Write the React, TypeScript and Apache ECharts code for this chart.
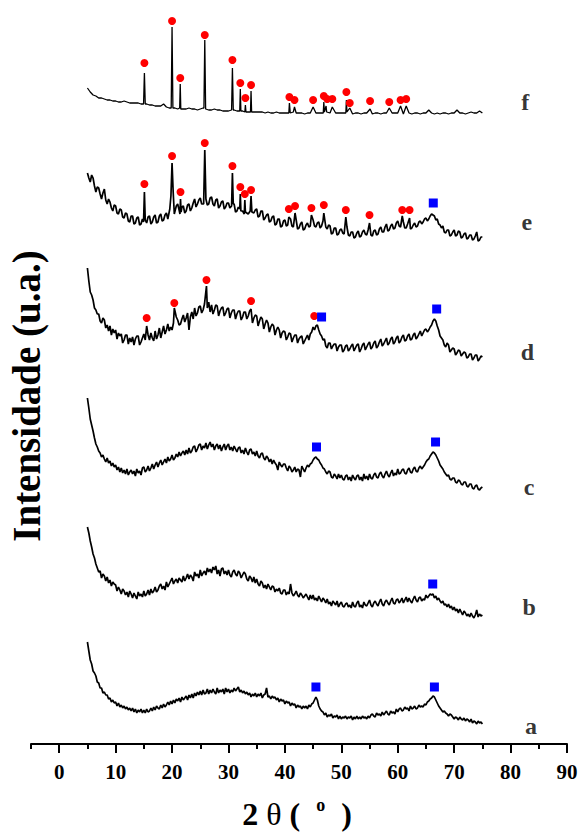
import React, { useEffect, useRef } from "react";
import * as echarts from "echarts";

// 2θ sampling of the background arrays
const THETA_START = 5;
const STEP_NOISY = 0.25; // traces a–e
const STEP_F = 0.5; // trace f

// Background intensities (u.a.), 5.0° … 75.0° every 0.25° (one row = 5°)
const bgA = [
  102, 93, 84, 80, 73, 71, 68, 62, 61, 56, 56, 51, 52, 49, 49, 45, 46, 42, 44, 41,
  42, 38, 41, 37, 39, 36, 38, 35, 37, 34, 36, 33, 36, 32, 35, 31, 34, 32, 35, 31,
  34, 31, 35, 32, 33, 36, 33, 37, 34, 38, 36, 35, 39, 36, 40, 37, 39, 42, 39, 43,
  40, 44, 41, 45, 43, 46, 42, 47, 44, 46, 48, 44, 49, 46, 50, 46, 51, 48, 52, 49,
  53, 49, 54, 50, 51, 55, 50, 54, 51, 55, 52, 50, 56, 51, 54, 52, 55, 50, 56, 52,
  55, 51, 54, 52, 56, 53, 55, 57, 52, 54, 51, 53, 50, 52, 49, 51, 47, 50, 48, 51,
  47, 50, 48, 51, 46, 49, 50, 56, 47, 48, 45, 48, 46, 47, 44, 46, 42, 45, 43, 44,
  40, 43, 41, 42, 38, 41, 39, 40, 36, 39, 37, 38, 35, 38, 36, 38, 35, 39, 37, 40,
  41, 44, 47, 44, 38, 35, 33, 32, 29, 31, 27, 29, 28, 30, 26, 28, 27, 29, 25, 28,
  25, 27, 26, 28, 25, 27, 26, 28, 24, 27, 25, 28, 25, 27, 25, 28, 26, 27, 25, 28,
  26, 29, 30, 28, 27, 31, 29, 30, 28, 32, 29, 31, 33, 30, 29, 33, 31, 32, 30, 35,
  32, 35, 36, 33, 34, 37, 35, 36, 33, 38, 35, 36, 38, 35, 36, 39, 37, 38, 37, 40,
  39, 42, 43, 45, 46, 48, 47, 44, 41, 38, 36, 34, 32, 33, 31, 30, 28, 30, 29, 27,
  25, 27, 26, 24, 27, 25, 24, 26, 23, 25, 24, 22, 25, 21, 23, 22, 20, 23, 21, 22,
  20,
];
const bgB = [
  217, 211, 203, 197, 190, 186, 180, 176, 172, 173, 166, 170, 168, 163, 167, 161, 164, 158, 162, 160,
  159, 153, 157, 154, 150, 155, 153, 149, 152, 147, 153, 150, 146, 151, 148, 145, 152, 148, 150, 147,
  153, 148, 150, 154, 149, 155, 151, 153, 157, 152, 154, 158, 160, 155, 158, 154, 162, 157, 160, 163,
  166, 160, 163, 165, 161, 166, 164, 162, 168, 163, 166, 170, 165, 169, 167, 163, 172, 168, 170, 166,
  174, 168, 171, 173, 169, 176, 172, 175, 171, 177, 174, 178, 170, 174, 168, 175, 176, 170, 173, 169,
  174, 169, 167, 172, 174, 170, 168, 173, 171, 166, 169, 172, 170, 165, 163, 168, 166, 162, 167, 161,
  165, 160, 158, 163, 161, 156, 159, 155, 160, 157, 154, 158, 157, 152, 155, 153, 156, 151, 150, 154,
  154, 149, 152, 150, 160, 151, 148, 150, 153, 149, 147, 151, 149, 146, 148, 150, 147, 144, 149, 145,
  149, 144, 146, 143, 148, 145, 142, 146, 144, 141, 145, 140, 142, 138, 143, 141, 139, 143, 137, 140,
  142, 138, 137, 140, 141, 137, 139, 136, 142, 138, 137, 141, 143, 137, 139, 136, 142, 139, 138, 141,
  144, 139, 137, 141, 143, 140, 138, 142, 145, 140, 138, 142, 144, 141, 139, 143, 146, 141, 140, 144,
  145, 141, 143, 146, 141, 144, 147, 142, 146, 143, 141, 145, 148, 144, 142, 146, 147, 143, 145, 144,
  149, 146, 148, 150, 149, 150, 146, 148, 144, 146, 143, 141, 143, 139, 140, 137, 140, 136, 138, 134,
  137, 133, 135, 131, 135, 132, 129, 133, 131, 128, 130, 127, 131, 128, 126, 129, 134, 127, 130, 128,
  129,
];
const bgC = [
  346, 336, 325, 319, 313, 306, 300, 297, 293, 291, 287, 289, 285, 282, 286, 281, 283, 278, 281, 277,
  279, 274, 277, 272, 276, 271, 274, 270, 275, 269, 272, 274, 270, 273, 268, 275, 271, 273, 269, 276,
  277, 272, 274, 278, 273, 276, 280, 275, 279, 282, 277, 281, 284, 279, 282, 285, 281, 287, 283, 285,
  289, 284, 286, 290, 287, 292, 288, 291, 293, 289, 294, 290, 296, 291, 293, 297, 298, 292, 295, 299,
  300, 294, 298, 296, 301, 295, 299, 302, 297, 300, 294, 298, 300, 295, 299, 293, 297, 300, 294, 298,
  300, 294, 297, 293, 298, 295, 292, 296, 297, 291, 294, 290, 296, 292, 289, 294, 295, 290, 292, 288,
  293, 288, 286, 290, 291, 286, 284, 288, 286, 282, 285, 280, 284, 281, 279, 274, 282, 279, 277, 280,
  280, 276, 273, 278, 276, 272, 274, 277, 272, 275, 274, 267, 278, 275, 272, 276, 279, 277, 280, 281,
  284, 286, 287, 285, 284, 281, 279, 276, 275, 272, 270, 273, 272, 267, 266, 270, 268, 265, 270, 266,
  269, 265, 264, 268, 269, 264, 267, 263, 269, 266, 264, 268, 269, 264, 267, 263, 270, 265, 268, 264,
  270, 266, 265, 269, 271, 267, 266, 270, 272, 268, 266, 270, 273, 269, 267, 271, 274, 268, 271, 269,
  275, 270, 271, 274, 275, 271, 270, 274, 276, 272, 271, 275, 277, 273, 272, 276, 278, 275, 277, 279,
  282, 284, 285, 288, 290, 292, 291, 289, 286, 283, 279, 277, 275, 272, 270, 268, 269, 265, 264, 266,
  266, 262, 261, 264, 263, 260, 259, 262, 262, 258, 257, 260, 260, 256, 255, 258, 259, 255, 254, 256,
  257,
];
const bgD = [
  476, 463, 452, 449, 444, 436, 434, 430, 430, 423, 421, 426, 424, 416, 419, 413, 418, 409, 415, 411,
  414, 405, 411, 408, 410, 401, 404, 409, 409, 400, 406, 402, 407, 399, 405, 408, 408, 399, 402, 406,
  410, 404, 401, 409, 404, 411, 406, 403, 413, 405, 409, 416, 406, 412, 418, 410, 414, 420, 413, 417,
  414, 421, 416, 427, 424, 419, 420, 425, 429, 422, 426, 431, 414, 427, 432, 425, 436, 428, 431, 437,
  438, 431, 434, 440, 431, 436, 442, 432, 439, 430, 434, 439, 438, 428, 433, 436, 437, 428, 431, 435,
  436, 426, 431, 434, 434, 425, 430, 433, 433, 424, 427, 432, 432, 425, 428, 433, 430, 421, 426, 429,
  428, 418, 423, 427, 425, 415, 420, 424, 421, 412, 417, 420, 418, 409, 414, 417, 414, 406, 411, 413,
  412, 404, 407, 411, 410, 402, 406, 409, 409, 401, 405, 407, 408, 400, 403, 406, 409, 404, 410, 412,
  417, 414, 418, 419, 414, 410, 408, 404, 405, 398, 396, 401, 401, 395, 398, 400, 400, 393, 397, 399,
  399, 392, 394, 398, 399, 393, 395, 398, 400, 393, 396, 399, 400, 392, 395, 399, 401, 394, 397, 400,
  402, 395, 397, 401, 403, 396, 398, 402, 405, 398, 400, 403, 406, 399, 401, 405, 407, 400, 402, 406,
  408, 401, 403, 407, 409, 403, 404, 408, 410, 404, 405, 409, 411, 405, 407, 410, 413, 408, 411, 414,
  415, 412, 414, 417, 419, 423, 425, 423, 418, 414, 408, 406, 404, 399, 397, 401, 399, 392, 394, 396,
  395, 389, 391, 394, 393, 388, 390, 392, 391, 386, 387, 390, 390, 384, 386, 389, 389, 383, 385, 388,
  387,
];
const bgE = [
  571, 566, 562, 569, 566, 558, 552, 557, 556, 550, 545, 551, 555, 544, 540, 545, 542, 536, 533, 539,
  538, 531, 530, 535, 534, 527, 526, 531, 530, 523, 522, 528, 528, 520, 521, 526, 527, 519, 520, 525,
  526, 520, 521, 527, 528, 520, 522, 527, 529, 521, 522, 528, 530, 523, 524, 529, 531, 525, 535, 535,
  536, 531, 532, 538, 540, 534, 534, 537, 538, 531, 533, 539, 540, 533, 536, 541, 545, 537, 540, 544,
  546, 540, 539, 545, 547, 539, 540, 546, 547, 540, 538, 544, 545, 536, 538, 542, 543, 535, 537, 541,
  541, 536, 534, 540, 540, 532, 533, 537, 538, 530, 533, 536, 537, 531, 530, 536, 538, 529, 531, 534,
  535, 527, 528, 533, 533, 524, 526, 529, 530, 522, 523, 527, 528, 519, 520, 525, 525, 517, 518, 523,
  524, 518, 519, 523, 525, 518, 517, 522, 524, 515, 516, 520, 522, 514, 515, 519, 521, 517, 518, 522,
  524, 518, 517, 521, 522, 516, 518, 523, 525, 517, 515, 519, 518, 510, 511, 516, 516, 509, 510, 514,
  515, 511, 510, 515, 517, 509, 508, 512, 512, 506, 507, 511, 513, 507, 508, 512, 514, 510, 509, 514,
  516, 509, 508, 513, 514, 509, 510, 515, 517, 512, 512, 517, 520, 513, 514, 518, 520, 515, 516, 521,
  523, 518, 517, 521, 522, 516, 516, 520, 522, 515, 516, 519, 521, 517, 518, 522, 523, 520, 522, 525,
  526, 523, 525, 528, 530, 529, 528, 524, 525, 520, 519, 516, 518, 512, 511, 514, 514, 508, 509, 512,
  514, 508, 509, 513, 512, 506, 507, 510, 511, 505, 506, 509, 509, 504, 505, 508, 512, 503, 504, 507,
  507,
];
// trace f, 5.0° … 75.0° every 0.5°
const bgF = [
  656, 652, 649, 648, 646, 646, 645, 644, 644, 643,
  643, 642, 642, 643, 642, 641, 641, 641, 641, 640,
  640, 640, 639, 639, 638, 638, 638, 640, 637, 636,
  636, 636, 635, 635, 635, 635, 636, 635, 635, 634,
  635, 636, 635, 634, 634, 635, 634, 634, 633, 633,
  633, 634, 634, 633, 633, 633, 633, 632, 632, 632,
  632, 632, 632, 631, 632, 631, 631, 632, 631, 631,
  631, 631, 631, 632, 631, 631, 631, 630, 631, 631,
  631, 631, 631, 631, 631, 631, 631, 631, 631, 631,
  631, 631, 631, 631, 630, 631, 631, 630, 631, 631,
  631, 630, 631, 631, 630, 631, 631, 630, 631, 631,
  631, 631, 630, 631, 631, 630, 631, 631, 630, 631,
  631, 634, 631, 630, 631, 630, 631, 631, 630, 631,
  631, 634, 631, 631, 630, 631, 632, 631, 631, 633,
  631,
];

// Sharp reflections [2θ, intensity]
const peaksA: [number, number][] = [];
const peaksB: [number, number][] = [];
const peaksC: [number, number][] = [];
const peaksD: [number, number][] = [
  [15.5, 418], [20.4, 436], [26.1, 458], [34.0, 435],
];
const peaksE: [number, number][] = [
  [14.95, 522], [15.1, 552], [15.25, 524],
  [19.6, 535], [19.8, 548], [20.0, 581], [20.2, 552], [20.4, 530],
  [21.4, 530], [21.5, 545], [21.6, 532],
  [25.6, 540], [25.8, 594], [26.0, 545],
  [30.55, 538], [30.7, 571], [30.85, 540],
  [32.0, 535], [32.1, 550], [32.2, 533],
  [32.8, 530], [32.9, 544], [33.0, 532],
  [33.85, 533], [34.0, 548], [34.15, 532],
  [40.7, 527], [41.8, 531], [44.7, 529], [46.9, 531],
  [50.8, 527], [55.0, 521], [60.8, 528], [62.1, 526],
];
const peaksF: [number, number][] = [
  [14.95, 640], [15.1, 671], [15.25, 640],
  [19.85, 636], [20.0, 717], [20.15, 636],
  [21.35, 636], [21.45, 660], [21.55, 635],
  [25.65, 636], [25.8, 704], [25.95, 635],
  [30.55, 634], [30.7, 676], [30.85, 634],
  [32.0, 633], [32.1, 655], [32.2, 633],
  [32.9, 632], [33.0, 639], [33.1, 632],
  [33.9, 632], [34.0, 653], [34.1, 632],
  [40.7, 631], [40.8, 641], [40.95, 631],
  [41.7, 637], [45.0, 637],
  [46.8, 631], [46.9, 642], [47.0, 632], [47.3, 638], [47.4, 632],
  [48.4, 637],
  [50.8, 631], [50.9, 644], [51.0, 632], [51.5, 636],
  [55.1, 635], [58.5, 636], [60.5, 638], [61.5, 638],
];

// Phase markers
const redDots: [number, number][] = [
  [15.1, 681], [20.0, 723], [21.45, 666], [25.8, 709], [30.7, 684], [32.1, 661],
  [33.0, 646], [34.0, 659], [40.8, 647], [41.7, 644], [45.0, 644], [46.9, 648],
  [47.5, 645], [48.4, 645], [50.9, 652], [51.5, 641], [55.1, 643], [58.5, 642],
  [60.5, 644], [61.5, 645],
  [15.1, 560], [20.0, 588], [21.5, 552], [25.8, 601], [30.7, 578], [32.1, 557],
  [32.9, 550], [34.0, 554], [40.7, 535], [41.8, 538], [44.7, 536], [46.9, 539],
  [50.8, 534], [55.0, 529], [60.8, 534], [62.1, 534],
  [15.5, 426], [20.4, 441], [26.1, 464], [34.0, 443], [45.2, 428],
];
const blueSquares: [number, number][] = [
  [66.3, 541], [46.5, 427], [66.9, 435], [45.6, 297], [66.7, 302],
  [66.2, 160], [45.5, 57], [66.5, 57],
];

const sampleNames = ["a", "b", "c", "d", "e", "f"];
const sampleLabelY = [18, 137, 257, 392, 522, 642];
const sampleLabelX = [83.6, 83.3, 83.3, 83.0, 82.9, 82.6];

const majorTicks = [0, 10, 20, 30, 40, 50, 60, 70, 80, 90];
const minorTicks = [-5, 5, 15, 25, 35, 45, 55, 65, 75, 85];

const SERIF = "'Times New Roman', 'Liberation Serif', serif";

function buildTrace(bg: number[], step: number, peaks: [number, number][]) {
  const pts: [number, number][] = [];
  bg.forEach((v, i) => {
    const t = THETA_START + i * step;
    if (!peaks.some((p) => Math.abs(p[0] - t) < 0.12)) pts.push([t, v]);
  });
  peaks.forEach((p) => pts.push([p[0], p[1]]));
  pts.sort((a, b) => a[0] - b[0]);
  return pts;
}

export default function App() {
  const ref = useRef<HTMLDivElement>(null);
  useEffect(() => {
    if (!ref.current) return;
    const chart = echarts.init(ref.current, undefined, { renderer: "svg" });
    const traces = [
      buildTrace(bgA, STEP_NOISY, peaksA),
      buildTrace(bgB, STEP_NOISY, peaksB),
      buildTrace(bgC, STEP_NOISY, peaksC),
      buildTrace(bgD, STEP_NOISY, peaksD),
      buildTrace(bgE, STEP_NOISY, peaksE),
      buildTrace(bgF, STEP_F, peaksF),
    ];
    const lineSeries = traces.map((data, i) => ({
      type: "line",
      name: sampleNames[i],
      data,
      showSymbol: false,
      symbol: "none",
      lineStyle: { color: "#000", width: i === 5 ? 1.3 : 1.7 },
      z: 2,
    }));
    chart.setOption({
      animation: false,
      backgroundColor: "#fff",
      grid: { left: 31, right: 13, top: 0, bottom: 90, outerBoundsMode: "none" },
      xAxis: [
        {
          type: "value",
          min: -5,
          max: 90,
          position: "bottom",
          axisLine: { show: true, lineStyle: { color: "#000", width: 2 } },
          axisTick: {
            show: true,
            customValues: majorTicks,
            length: 9,
            lineStyle: { color: "#000", width: 2 },
          },
          axisLabel: {
            customValues: majorTicks,
            color: "#000",
            fontFamily: SERIF,
            fontWeight: "bold",
            fontSize: 21,
            margin: 17,
          },
          splitLine: { show: false },
        },
        {
          type: "value",
          min: -5,
          max: 90,
          position: "bottom",
          axisLine: { show: false },
          axisTick: {
            show: true,
            customValues: minorTicks,
            length: 5,
            lineStyle: { color: "#000", width: 2 },
          },
          axisLabel: { show: false },
          splitLine: { show: false },
        },
      ],
      yAxis: { type: "value", min: 0, max: 744, show: false },
      graphic: [
        {
          type: "text",
          x: 26,
          y: 396,
          rotation: Math.PI / 2,
          style: {
            text: "Intensidade (u.a.)",
            fontFamily: SERIF,
            fontWeight: "bold",
            fontSize: 39,
            fill: "#000",
            textAlign: "center",
            textVerticalAlign: "middle",
          },
        },
        {
          type: "text",
          x: 297,
          y: 814,
          style: {
            text: "{n|2 }{t|θ}{n| (  }{s|o}{n|  )}",
            textAlign: "center",
            textVerticalAlign: "middle",
            rich: {
              n: { fontFamily: SERIF, fontWeight: "bold", fontSize: 32, fill: "#000", lineHeight: 36 },
              t: { fontFamily: SERIF, fontWeight: "normal", fontSize: 32, fill: "#000", lineHeight: 36 },
              s: { fontFamily: SERIF, fontWeight: "bold", fontSize: 18, fill: "#000", verticalAlign: "top", lineHeight: 36, padding: [0, 0, 14, 0] },
            },
          },
        },
      ],
      series: [
        ...lineSeries,
        {
          type: "scatter",
          data: redDots,
          symbol: "circle",
          symbolSize: 8,
          itemStyle: { color: "#ff0000", opacity: 1 },
          z: 3,
        },
        {
          type: "scatter",
          data: blueSquares,
          symbol: "rect",
          symbolSize: 9,
          itemStyle: { color: "#0000ff", opacity: 1 },
          z: 3,
        },
        {
          type: "scatter",
          data: sampleNames.map((n, i) => ({ name: n, value: [sampleLabelX[i], sampleLabelY[i]] })),
          symbolSize: 1,
          itemStyle: { color: "rgba(0,0,0,0)" },
          label: {
            show: true,
            position: "inside",
            formatter: (p: any) => p.name,
            fontFamily: SERIF,
            fontWeight: "bold",
            fontSize: 24,
            color: "#000",
          },
          z: 4,
        },
      ],
    });
    return () => chart.dispose();
  }, []);
  return (
    <div
      ref={ref}
      style={{ position: "fixed", left: 0, top: 0, width: 580, height: 834, background: "#fff" }}
    />
  );
}
